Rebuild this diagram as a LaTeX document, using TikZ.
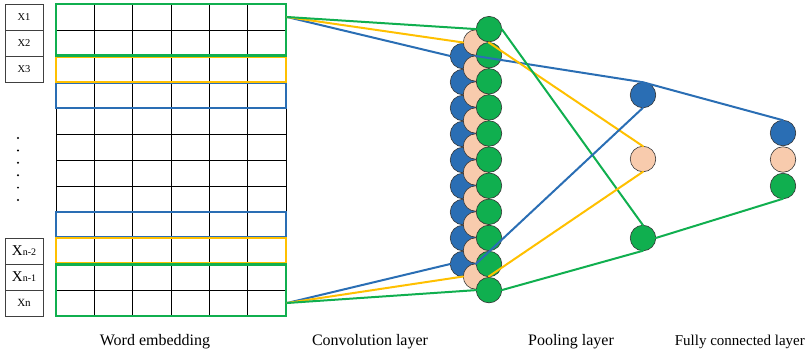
\documentclass[tikz,border=0pt]{standalone}
\usepackage{fontspec}
\setmainfont{Liberation Serif}
\usetikzlibrary{positioning}

\definecolor{cnnblue}{HTML}{2A6EB4}
\definecolor{cnngreen}{HTML}{10AF4F}
\definecolor{cnnpeach}{HTML}{F8CBAD}
\definecolor{cnnyellow}{HTML}{FFC000}

\begin{document}
\begin{tikzpicture}[x=1pt,y=-1pt,
    neuron/.style={circle,draw=black!80,line width=0.6pt,minimum size=25.5pt,inner sep=0pt,outer sep=0pt},
    wordbox/.style={draw=black!75,line width=0.6pt,minimum width=38pt,minimum height=26pt,inner sep=0pt,outer sep=0pt},
    window/.style={line width=2.4pt},
    link/.style={line width=2pt,line cap=round},
    caption/.style={font=\fontsize{16}{19}\selectfont}]
  \useasboundingbox (0,0) rectangle (807,357);

  % word labels
  \node[wordbox] (x1) at (24,17) {\fontsize{10.5}{12}\selectfont X1};
  \node[wordbox,below=0pt of x1] (x2) {\fontsize{10.5}{12}\selectfont X2};
  \node[wordbox,below=0pt of x2] (x3) {\fontsize{10.5}{12}\selectfont X3};
  \node[wordbox] (xn2) at (24,251) {{\fontsize{15}{16}\selectfont X}{\fontsize{10}{12}\selectfont n-2}};
  \node[wordbox,below=0pt of xn2] (xn1) {{\fontsize{15}{16}\selectfont X}{\fontsize{10}{12}\selectfont n-1}};
  \node[wordbox,below=0pt of xn1] (xn) {\fontsize{11}{12}\selectfont Xn};
  \foreach \d in {0,...,5}
    \fill (18,138+12.4*\d) circle (1.1pt);

  % embedding matrix
  \foreach \c in {0,...,6}
    \draw[line width=0.8pt] (56+38.333*\c,4) -- (56+38.333*\c,316);
  \foreach \r in {0,...,12}
    \draw[line width=0.8pt] (56,4+26*\r) -- (286,4+26*\r);
  \draw[window,cnnblue] (56,83) rectangle (286,108);
  \draw[window,cnnyellow] (56,57) rectangle (286,82);
  \draw[window,cnngreen] (56,4) rectangle (286,55.5);
  \draw[window,cnnblue] (56,212) rectangle (286,237);
  \draw[window,cnnyellow] (56,238) rectangle (286,263);
  \draw[window,cnngreen] (56,264.5) rectangle (286,316);
  \coordinate (w1) at (287,17);
  \coordinate (wn) at (287,303);

  % convolution layer
  \foreach \i in {1,...,9}
    \node[neuron,fill=cnnblue] (b\i) at (463,30+26*\i) {};
  \foreach \i in {1,...,10}
    \node[neuron,fill=cnnpeach] (p\i) at (476,16.5+26*\i) {};
  \foreach \i in {1,...,11}
    \node[neuron,fill=cnngreen] (g\i) at (489,3+26.1*\i) {};

  % pooling layer
  \node[neuron,fill=cnnblue] (pb) at (643,95) {};
  \node[neuron,fill=cnnpeach] (pp) at (643,159) {};
  \node[neuron,fill=cnngreen] (pg) at (643,238) {};

  % fully connected layer
  \node[neuron,fill=cnnblue] (fb) at (783,133) {};
  \node[neuron,fill=cnnpeach,below=1pt of fb] (fp) {};
  \node[neuron,fill=cnngreen,below=1pt of fp] (fg) {};

  \begin{scope}[link]
    \draw[cnnblue] (w1) -- (b1.west);
    \draw[cnnyellow] (w1) -- (p1.west);
    \draw[cnngreen] (w1) -- (g1.west);
    \draw[cnnblue] (wn) -- (b9.west);
    \draw[cnnyellow] (wn) -- (p10.west);
    \draw[cnngreen] (wn) -- (g11.west);

    \draw[cnnblue,line join=round] (b1.east) -- (pb.north) -- (fb.north);
    \draw[cnnyellow] (p1.east) -- (pp.north);
    \draw[cnngreen] (g1.east) -- (pg.north);
    \draw[cnnblue] (b9.east) -- (pb.south);
    \draw[cnnyellow] (p10.east) -- (pp.south);
    \draw[cnngreen] (g11.east) -- (pg.south);
    \draw[cnngreen] (pg.east) -- (fg.south);
  \end{scope}

  \node[caption] (cap1) at (155,342) {Word embedding};
  \node[caption] (cap2) at (370,342) {Convolution layer};
  \node[caption] (cap3) at (571,342) {Pooling layer};
  \node[caption,font=\fontsize{15}{18}\selectfont,anchor=east,inner sep=0pt] (cap4) at (805,342) {Fully connected layer};
\end{tikzpicture}
\end{document}
